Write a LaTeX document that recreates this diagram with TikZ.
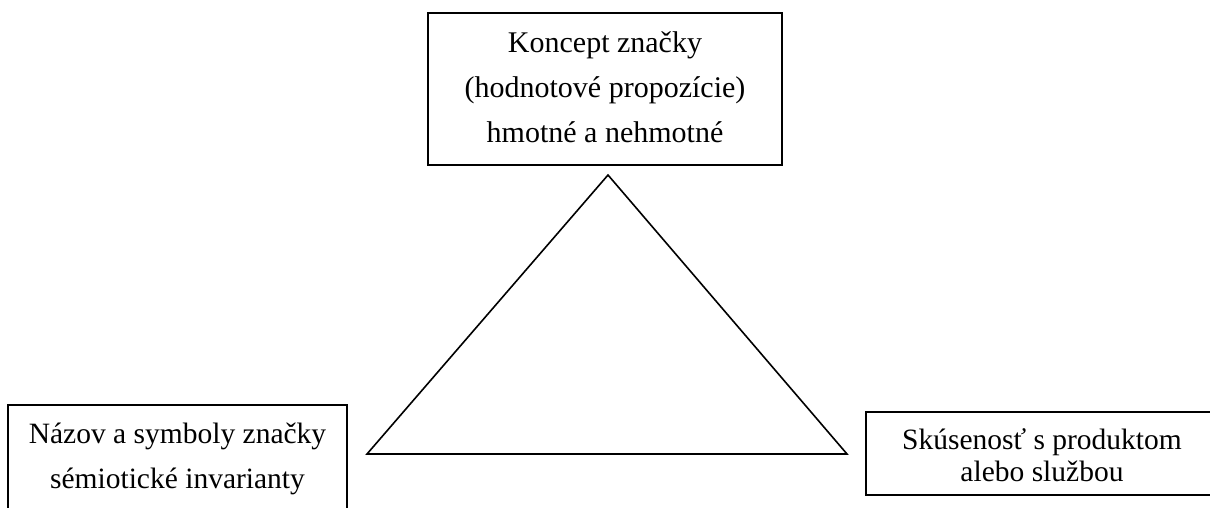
\documentclass[tikz,border=0pt]{standalone}
\usepackage{fontspec}
\setmainfont{Liberation Serif}
\begin{document}
\begin{tikzpicture}[x=1pt,y=-1pt,
  frame/.style={draw=black,line width=1.6pt,inner sep=0pt},
  label/.style={anchor=base,inner sep=0pt,font=\fontsize{29.5}{31}\selectfont},
  toplabel/.style={label,font=\fontsize{30}{32}\selectfont},
  edge/.style={draw=black,line width=1.6pt,line join=miter}]
\useasboundingbox (0,0) rectangle (1210,507);
\clip (0,0) rectangle (1210,507);

% boxes
\node[frame,minimum width=354pt,minimum height=152pt] (concept) at (605,89) {};
\node[frame,minimum width=339pt,minimum height=140pt] (name) at (177.5,475) {};
\node[frame,minimum width=352pt,minimum height=83pt] (experience) at (1042,453.5) {};

% box texts
\node[toplabel] (c1) at (605,52) {Koncept značky};
\node[toplabel] (c2) at (605,97) {(hodnotové propozície)};
\node[toplabel] (c3) at (605,142) {hmotné a nehmotné};
\node[label] (n1) at (177.5,443) {Názov a symboly značky};
\node[label] (n2) at (177.5,488) {sémiotické invarianty};
\node[label] (e1) at (1042,449) {Skúsenosť s produktom};
\node[label] (e2) at (1042,481) {alebo službou};

% triangle
\coordinate (apex) at (608,175);
\coordinate (bl) at (367,454);
\coordinate (br) at (847,454);
\draw[edge] (apex) -- (br) -- (bl) -- cycle;
\end{tikzpicture}
\end{document}
